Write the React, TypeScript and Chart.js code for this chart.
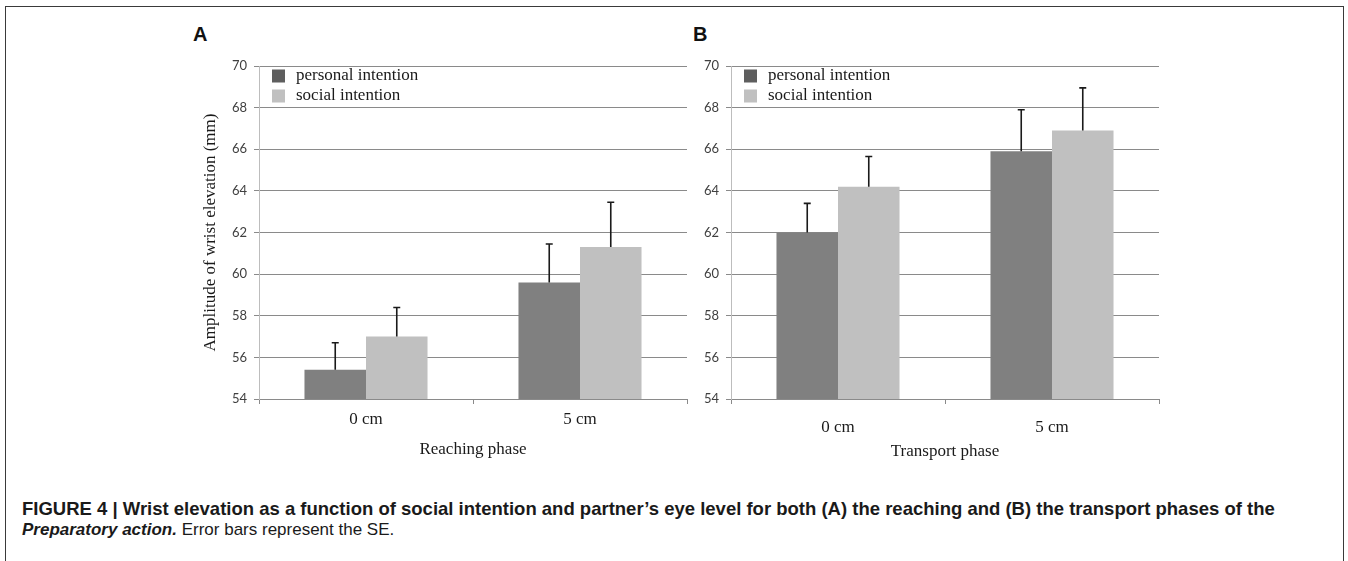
import React, { useEffect, useRef } from "react";
import { Chart, registerables } from "chart.js";

Chart.register(...registerables);

// ---- data ----
const categories = ["0 cm", "5 cm"];
const seriesLabels = ["personal intention", "social intention"];
const barColors = ["#808080", "#c0c0c0"];
const legendColors = ["#5e5e5e", "#c0c0c0"];

const reachingPersonal = [55.4, 59.6];
const reachingSocial = [57.0, 61.3];
const reachingPersonalSE = [1.3, 1.85];
const reachingSocialSE = [1.4, 2.15];

const transportPersonal = [62.0, 65.9];
const transportSocial = [64.2, 66.9];
const transportPersonalSE = [1.4, 2.0];
const transportSocialSE = [1.45, 2.05];

const yMin = 54;
const yMax = 70;
const yStep = 2;

const yAxisTitle = "Amplitude of wrist elevation (mm)";
const captionBold =
  "FIGURE 4 | Wrist elevation as a function of social intention and partner\u2019s eye level for both (A) the reaching and (B) the transport phases of the";
const captionItalic = "Preparatory action.";
const captionRest = " Error bars represent the SE.";

const SERIF = "'Liberation Serif', 'Times New Roman', serif";
const SANS_TICK = "Lato, 'Open Sans', sans-serif";

const errorBarPlugin = {
  id: "errorBars",
  afterDatasetsDraw(chart: any) {
    const ctx = chart.ctx;
    const yScale = chart.scales.y;
    chart.data.datasets.forEach((ds: any, i: number) => {
      const meta = chart.getDatasetMeta(i);
      meta.data.forEach((bar: any, j: number) => {
        const v = ds.data[j];
        const top = yScale.getPixelForValue(v + ds.errors[j]);
        ctx.save();
        ctx.strokeStyle = "#1a1a1a";
        ctx.lineWidth = 1.6;
        ctx.beginPath();
        ctx.moveTo(bar.x, bar.y);
        ctx.lineTo(bar.x, top);
        ctx.moveTo(bar.x - 3.5, top);
        ctx.lineTo(bar.x + 3.5, top);
        ctx.stroke();
        ctx.restore();
      });
    });
  },
};

const inlineLegendPlugin = {
  id: "inlineLegend",
  afterDraw(chart: any) {
    const { ctx, chartArea } = chart;
    chart.data.datasets.forEach((ds: any, i: number) => {
      const cy = chartArea.top + 10 + i * 20;
      ctx.save();
      ctx.fillStyle = legendColors[i];
      ctx.fillRect(chartArea.left + 13, cy - 6.5, 13, 13);
      ctx.fillStyle = "#1a1a1a";
      ctx.font = `17px ${SERIF}`;
      ctx.textBaseline = "middle";
      ctx.textAlign = "left";
      ctx.fillText(ds.label, chartArea.left + 37, cy);
      ctx.restore();
    });
  },
};

type PanelProps = {
  left: number;
  top: number;
  width: number;
  height: number;
  personal: number[];
  social: number[];
  personalSE: number[];
  socialSE: number[];
  xTitle: string;
  yTitle?: string;
  yAxisWidth: number;
  padRight: number;
  padTop: number;
  xAxisHeight: number;
  xTickPad: number;
  xTitlePad: number;
  yTitlePad: number;
};

function BarPanel(p: PanelProps) {
  const ref = useRef<HTMLCanvasElement | null>(null);
  useEffect(() => {
    if (!ref.current) return;
    const chart = new Chart(ref.current, {
      type: "bar",
      data: {
        labels: categories,
        datasets: [
          {
            label: seriesLabels[0],
            data: p.personal,
            errors: p.personalSE,
            backgroundColor: barColors[0],
            borderWidth: 0,
            categoryPercentage: 0.575,
            barPercentage: 1.0,
          } as any,
          {
            label: seriesLabels[1],
            data: p.social,
            errors: p.socialSE,
            backgroundColor: barColors[1],
            borderWidth: 0,
            categoryPercentage: 0.575,
            barPercentage: 1.0,
          } as any,
        ],
      },
      options: {
        responsive: false,
        animation: false,
        devicePixelRatio: 1,
        layout: { padding: { top: p.padTop, right: p.padRight, left: 0, bottom: 0 } },
        plugins: {
          legend: { display: false },
          tooltip: { enabled: false },
          title: { display: false },
        },
        scales: {
          x: {
            type: "category",
            grid: {
              display: true,
              drawOnChartArea: false,
              drawTicks: true,
              tickLength: 5,
              color: "#8a8a8a",
              offset: true,
            },
            border: { display: true, color: "#8a8a8a", width: 1 },
            ticks: {
              color: "#1a1a1a",
              font: { family: SERIF, size: 17 },
              padding: p.xTickPad,
              maxRotation: 0,
            },
            title: {
              display: true,
              text: p.xTitle,
              color: "#1a1a1a",
              font: { family: SERIF, size: 17 },
              padding: { top: 0, bottom: p.xTitlePad },
            },
            afterFit: (scale: any) => {
              scale.height = p.xAxisHeight;
            },
          },
          y: {
            type: "linear",
            min: yMin,
            max: yMax,
            grid: {
              color: "#8a8a8a",
              lineWidth: 1,
              drawTicks: true,
              tickLength: 5,
            },
            border: { display: true, color: "#bdbdbd", width: 1 },
            ticks: {
              stepSize: yStep,
              color: "#404040",
              font: { family: SANS_TICK, size: 13 },
              padding: 7,
            },
            title: {
              display: !!p.yTitle,
              text: p.yTitle || "",
              color: "#1a1a1a",
              font: { family: SERIF, size: 17 },
              padding: { top: p.yTitlePad, bottom: 0 },
            },
            afterFit: (scale: any) => {
              scale.width = p.yAxisWidth;
            },
          },
        },
      } as any,
      plugins: [errorBarPlugin, inlineLegendPlugin],
    });
    return () => chart.destroy();
  }, []);
  return (
    <canvas
      ref={ref}
      width={p.width}
      height={p.height}
      style={{ position: "absolute", left: p.left, top: p.top, width: p.width, height: p.height }}
    />
  );
}

export default function App() {
  return (
    <div
      style={{
        position: "fixed",
        left: 0,
        top: 0,
        width: 1348,
        height: 561,
        overflow: "hidden",
        background: "#ffffff",
      }}
    >
      <div
        style={{
          position: "absolute",
          left: 5,
          top: 6,
          width: 1339,
          height: 700,
          border: "1px solid #3a3a3a",
          boxSizing: "border-box",
        }}
      />
      <div
        style={{
          position: "absolute",
          left: 193,
          top: 24,
          font: "bold 20px 'Liberation Sans', Arial, sans-serif",
          lineHeight: "20px",
          color: "#111",
        }}
      >
        A
      </div>
      <div
        style={{
          position: "absolute",
          left: 693,
          top: 24,
          font: "bold 20px 'Liberation Sans', Arial, sans-serif",
          lineHeight: "20px",
          color: "#111",
        }}
      >
        B
      </div>
      <BarPanel
        left={185}
        top={50}
        width={515}
        height={430}
        personal={reachingPersonal}
        social={reachingSocial}
        personalSE={reachingPersonalSE}
        socialSE={reachingSocialSE}
        xTitle="Reaching phase"
        yTitle={yAxisTitle}
        yAxisWidth={74}
        padRight={13}
        padTop={16}
        xAxisHeight={81}
        xTickPad={5}
        xTitlePad={20}
        yTitlePad={15}
      />
      <BarPanel
        left={690}
        top={50}
        width={480}
        height={430}
        personal={transportPersonal}
        social={transportSocial}
        personalSE={transportPersonalSE}
        socialSE={transportSocialSE}
        xTitle="Transport phase"
        yAxisWidth={41}
        padRight={11}
        padTop={16}
        xAxisHeight={81}
        xTickPad={13}
        xTitlePad={18}
        yTitlePad={0}
      />
      <div
        style={{
          position: "absolute",
          left: 22,
          top: 500,
          font: "bold 18.5px 'Liberation Sans', Arial, sans-serif",
          lineHeight: "18.5px",
          whiteSpace: "nowrap",
          color: "#1a1a1a",
        }}
      >
        {captionBold}
      </div>
      <div
        style={{
          position: "absolute",
          left: 22,
          top: 521,
          font: "17px 'Liberation Sans', Arial, sans-serif",
          lineHeight: "18px",
          whiteSpace: "nowrap",
          color: "#1a1a1a",
        }}
      >
        <span style={{ fontWeight: "bold", fontStyle: "italic" }}>{captionItalic}</span>
        {captionRest}
      </div>
    </div>
  );
}
